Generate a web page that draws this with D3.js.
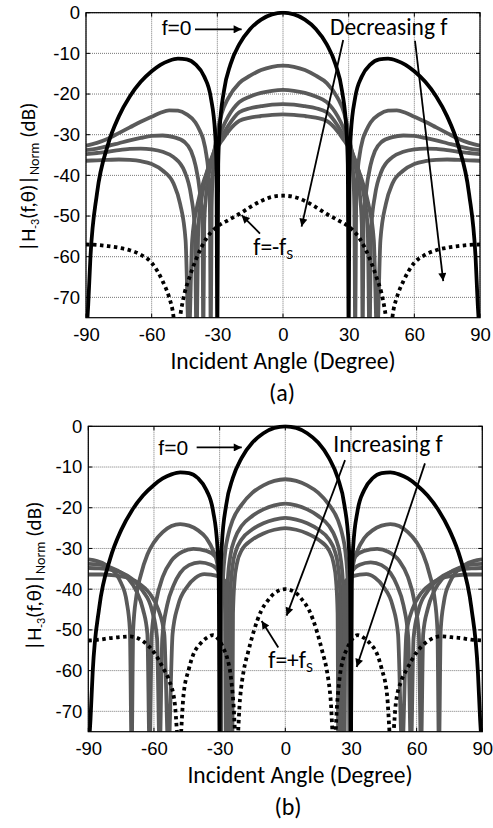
<!DOCTYPE html>
<html>
<head>
<meta charset="utf-8">
<script src="https://cdn.jsdelivr.net/npm/d3@7"></script>
<style>
  body { margin: 0; background: #ffffff; }
</style>
</head>
<body>
<div id="chart"></div>
<script>

// #####################################################
// Data (angle in degree, level in dB)
// nulls go below the -75 dB floor and get clipped
//
var xTicks = [-90, -60, -30, 0, 30, 60, 90];
var yTicks = [0, -10, -20, -30, -40, -50, -60, -70];
var xDomain = [-90, 90];
var yDomain = [-75, 0];

// f=0, same curve on both panels
var curveF0 = [[-90,-80],[-89,-72],[-88,-60.4],[-85,-44.5],[-80,-32.5],[-75,-25.5],[-70,-20.6],[-65,-17],[-60,-14.4],[-56,-12.8],[-52,-11.8],[-48,-11.3],[-44,-11.5],[-40,-12.7],[-36,-15.7],[-33,-20.8],[-31,-29.7],[-30.4,-37.6],[-30,-80],[-29.6,-37.3],[-29,-29.2],[-27,-19.3],[-24,-12.7],[-20,-7.8],[-15,-4],[-10,-1.7],[-5,-0.4],[0,0],
  [5,-0.4],[10,-1.7],[15,-4],[20,-7.8],[24,-12.7],[27,-19.3],[29,-29.2],[29.6,-37.3],[30,-80],[30.4,-37.6],[31,-29.7],[33,-20.8],[36,-15.7],[40,-12.7],[44,-11.5],[48,-11.3],[52,-11.8],[56,-12.8],[60,-14.4],[65,-17],[70,-20.6],[75,-25.5],[80,-32.5],[85,-44.5],[88,-60.4],[89,-72],[90,-80]];

// panel (a), decreasing f
var curveA1 = [[-90,-32.7],[-85,-32],[-80,-31],[-75,-29.6],[-70,-28.2],[-65,-26.8],[-60,-25.6],[-56,-24.6],[-52,-24],[-48,-24.1],[-44,-25],[-40,-27],[-38,-29],[-36.5,-31],[-35,-35],[-34,-40],[-33.4,-48],[-33,-80],[-32.6,-48],[-32,-39],[-31,-33],[-30,-29.5],[-28,-24.8],[-25,-21],[-20,-17.3],[-15,-15.5],[-10,-14.1],[-5,-13.3],[0,-13],
  [5,-13.3],[10,-14.1],[15,-15.5],[20,-17.3],[25,-21],[28,-24.8],[30,-29.5],[31,-33],[32,-39],[32.6,-48],[33,-80],[33.4,-48],[34,-40],[35,-35],[36.5,-31],[38,-29],[40,-27],[44,-25],[48,-24.1],[52,-24],[56,-24.6],[60,-25.6],[65,-26.8],[70,-28.2],[75,-29.6],[80,-31],[85,-32],[90,-32.7]];
var curveA2 = [[-90,-33.8],[-85,-33.4],[-80,-32.8],[-75,-32.1],[-70,-31.4],[-65,-30.8],[-60,-30.3],[-55,-30.2],[-50,-30.6],[-45,-31.8],[-42,-34],[-40,-37.5],[-38,-44],[-36.8,-52],[-36.4,-80],[-36,-52],[-35,-44],[-33,-37.5],[-31,-33],[-28,-28.8],[-25,-25.5],[-20,-22],[-15,-20.6],[-10,-19.7],[-5,-19.2],[0,-19],
  [5,-19.2],[10,-19.7],[15,-20.6],[20,-22],[25,-25.5],[28,-28.8],[31,-33],[33,-37.5],[35,-44],[36,-52],[36.4,-80],[36.8,-52],[38,-44],[40,-37.5],[42,-34],[45,-31.8],[50,-30.6],[55,-30.2],[60,-30.3],[65,-30.8],[70,-31.4],[75,-32.1],[80,-32.8],[85,-33.4],[90,-33.8]];
var curveA3 = [[-90,-34.8],[-85,-34.5],[-80,-34.2],[-75,-33.8],[-70,-33.5],[-65,-33.4],[-60,-33.6],[-55,-34.2],[-50,-35.5],[-45,-39],[-42,-45],[-40.3,-53],[-39.5,-80],[-38.7,-53],[-37,-45],[-34,-38],[-31,-33.5],[-28,-30.5],[-25,-27.8],[-20,-24.5],[-15,-23.5],[-10,-23],[-5,-22.6],[0,-22.5],
  [5,-22.6],[10,-23],[15,-23.5],[20,-24.5],[25,-27.8],[28,-30.5],[31,-33.5],[34,-38],[37,-45],[38.7,-53],[39.5,-80],[40.3,-53],[42,-45],[45,-39],[50,-35.5],[55,-34.2],[60,-33.6],[65,-33.4],[70,-33.5],[75,-33.8],[80,-34.2],[85,-34.5],[90,-34.8]];
var curveA4 = [[-90,-36.4],[-85,-36.3],[-80,-36.2],[-75,-36.1],[-70,-36.2],[-65,-36.5],[-60,-37.2],[-55,-38.8],[-50,-42],[-47,-47],[-44.5,-56],[-43,-80],[-41.5,-56],[-39,-47],[-35,-39.5],[-31,-34],[-28,-31.5],[-25,-29.2],[-20,-26.6],[-15,-25.8],[-10,-25.4],[-5,-25.1],[0,-25],
  [5,-25.1],[10,-25.4],[15,-25.8],[20,-26.6],[25,-29.2],[28,-31.5],[31,-34],[35,-39.5],[39,-47],[41.5,-56],[43,-80],[44.5,-56],[47,-47],[50,-42],[55,-38.8],[60,-37.2],[65,-36.5],[70,-36.2],[75,-36.1],[80,-36.2],[85,-36.3],[90,-36.4]];
var curveAfs = [[-90,-57],[-85,-57.1],[-80,-57.4],[-75,-57.8],[-70,-58.4],[-65,-59.5],[-60,-61.5],[-55,-66],[-52,-70],[-50.5,-73],[-48.5,-80],[-46.5,-73],[-45,-69],[-43,-65.5],[-40,-61],[-35,-55.5],[-30,-52.6],[-25,-51],[-20,-49.5],[-15,-47.8],[-10,-46.3],[-5,-45.3],[0,-45],
  [5,-45.3],[10,-46.3],[15,-47.8],[20,-49.5],[25,-51],[30,-52.6],[35,-55.5],[40,-61],[43,-65.5],[45,-69],[46.5,-73],[48.5,-80],[50.5,-73],[52,-70],[55,-66],[60,-61.5],[65,-59.5],[70,-58.4],[75,-57.8],[80,-57.4],[85,-57.1],[90,-57]];

// panel (b), increasing f
var curveB1 = [[-90,-32.7],[-86,-33.1],[-82,-34],[-78,-35.8],[-75,-38.5],[-72.5,-43],[-71,-50],[-70.2,-80],[-69.5,-50],[-68,-41.5],[-66,-36.5],[-63,-31.5],[-60,-28.5],[-56,-26],[-52,-24.5],[-48,-24],[-44,-24.4],[-40,-25.5],[-36,-27.5],[-33,-30.5],[-31,-34],[-30.2,-38],[-29.6,-46],[-29.3,-80],[-29,-46],[-28.5,-38],[-27.5,-31],[-26,-26.5],[-24,-23],[-20,-19.3],[-15,-16.3],[-10,-14.5],[-5,-13.4],[0,-13],
  [5,-13.4],[10,-14.5],[15,-16.3],[20,-19.3],[24,-23],[26,-26.5],[27.5,-31],[28.5,-38],[29,-46],[29.3,-80],[29.6,-46],[30.2,-38],[31,-34],[33,-30.5],[36,-27.5],[40,-25.5],[44,-24.4],[48,-24],[52,-24.5],[56,-26],[60,-28.5],[63,-31.5],[66,-36.5],[68,-41.5],[69.5,-50],[70.2,-80],[71,-50],[72.5,-43],[75,-38.5],[78,-35.8],[82,-34],[86,-33.1],[90,-32.7]];
var curveB2 = [[-90,-33.8],[-86,-33.9],[-82,-34.3],[-77,-35.3],[-72,-37.3],[-68,-40.5],[-65,-45],[-63,-51],[-62,-80],[-61,-51],[-59,-43],[-56,-37],[-52,-33],[-47,-30.8],[-42,-30.1],[-36,-30.6],[-32,-32],[-29.5,-35],[-28,-40],[-27.4,-46],[-27.1,-80],[-26.8,-46],[-26.3,-38],[-25,-31.5],[-23,-27.5],[-20,-24.5],[-15,-22],[-10,-20.4],[-5,-19.4],[0,-19],
  [5,-19.4],[10,-20.4],[15,-22],[20,-24.5],[23,-27.5],[25,-31.5],[26.3,-38],[26.8,-46],[27.1,-80],[27.4,-46],[28,-40],[29.5,-35],[32,-32],[36,-30.6],[42,-30.1],[47,-30.8],[52,-33],[56,-37],[59,-43],[61,-51],[62,-80],[63,-51],[65,-45],[68,-40.5],[72,-37.3],[77,-35.3],[82,-34.3],[86,-33.9],[90,-33.8]];
var curveB3 = [[-90,-34.8],[-85,-34.9],[-80,-35.2],[-75,-35.9],[-70,-37.5],[-65,-40.5],[-61,-45],[-58.6,-52],[-57.4,-80],[-56.2,-52],[-54,-44],[-51,-39],[-48,-36],[-44,-34.1],[-39,-33.4],[-34,-34],[-30,-36],[-28,-38.5],[-26.8,-42],[-26.1,-48],[-25.8,-80],[-25.5,-48],[-25,-40],[-24,-34],[-22.5,-30.5],[-20,-27.8],[-15,-25.3],[-10,-23.8],[-5,-22.9],[0,-22.5],
  [5,-22.9],[10,-23.8],[15,-25.3],[20,-27.8],[22.5,-30.5],[24,-34],[25,-40],[25.5,-48],[25.8,-80],[26.1,-48],[26.8,-42],[28,-38.5],[30,-36],[34,-34],[39,-33.4],[44,-34.1],[48,-36],[51,-39],[54,-44],[56.2,-52],[57.4,-80],[58.6,-52],[61,-45],[65,-40.5],[70,-37.5],[75,-35.9],[80,-35.2],[85,-34.9],[90,-34.8]];
var curveB4 = [[-90,-36.4],[-84,-36.4],[-78,-36.6],[-72,-37.2],[-67,-38.5],[-62,-41],[-58,-45],[-55.3,-51],[-53.4,-80],[-51.5,-51],[-49,-44],[-45,-39.5],[-41,-37.2],[-37,-36.3],[-34,-36.4],[-30,-37],[-27,-38.5],[-25.3,-41],[-24.5,-46],[-24.2,-80],[-23.9,-46],[-23.2,-38],[-22,-33.5],[-20,-30.5],[-15,-27.8],[-10,-26.3],[-5,-25.4],[0,-25],
  [5,-25.4],[10,-26.3],[15,-27.8],[20,-30.5],[22,-33.5],[23.2,-38],[23.9,-46],[24.2,-80],[24.5,-46],[25.3,-41],[27,-38.5],[30,-37],[34,-36.4],[37,-36.3],[41,-37.2],[45,-39.5],[49,-44],[51.5,-51],[53.4,-80],[55.3,-51],[58,-45],[62,-41],[67,-38.5],[72,-37.2],[78,-36.6],[84,-36.4],[90,-36.4]];
var curveBfs = [[-90,-52.6],[-85,-52.4],[-80,-52],[-76,-51.8],[-71,-51.6],[-65,-52.8],[-60,-55.5],[-55.7,-59.5],[-53,-62.5],[-50.5,-68],[-48.5,-80],[-46.5,-66],[-44,-59.5],[-42,-56],[-39,-53.5],[-36,-52],[-33,-51.3],[-31,-52],[-28.3,-54.5],[-26.5,-57],[-25,-61],[-23.7,-68],[-22.3,-80],[-20.7,-67],[-19,-60],[-17,-55.5],[-14.5,-50.5],[-11,-45.3],[-8,-42.8],[-5,-41],[0,-40],
  [5,-41],[8,-42.8],[11,-45.3],[14.5,-50.5],[17,-55.5],[19,-60],[20.7,-67],[22.3,-80],[23.7,-68],[25,-61],[26.5,-57],[28.3,-54.5],[31,-52],[33,-51.3],[36,-52],[39,-53.5],[42,-56],[44,-59.5],[46.5,-66],[48.5,-80],[50.5,-68],[53,-62.5],[55.7,-59.5],[60,-55.5],[65,-52.8],[71,-51.6],[76,-51.8],[80,-52],[85,-52.4],[90,-52.6]];

// #####################################################
// Styles
//
var grayColor = '#5a5a5a';
var tickFont = '"Liberation Sans", Arial, Helvetica, sans-serif';
var textFont = 'Carlito, Lato, "Open Sans", sans-serif';

var svg = d3.select('#chart').append('svg')
    .attr('width', 493)
    .attr('height', 828)
    .style('background', '#ffffff');

var defs = svg.append('defs');
defs.append('marker')
    .attr('id', 'arrowhead')
    .attr('viewBox', '0 0 10 10')
    .attr('refX', 10)
    .attr('refY', 5)
    .attr('markerUnits', 'userSpaceOnUse')
    .attr('markerWidth', 12)
    .attr('markerHeight', 8)
    .attr('orient', 'auto')
  .append('path')
    .attr('d', 'M0,0 L10,5 L0,10 z')
    .attr('fill', '#000');

// #####################################################
// One panel
//
function plot_panel (cfg) {

  var x = d3.scaleLinear().domain(xDomain).range([cfg.left, cfg.left + cfg.width]);
  var y = d3.scaleLinear().domain(yDomain).range([cfg.top + cfg.height, cfg.top]);
  var bottom = cfg.top + cfg.height;
  var right = cfg.left + cfg.width;

  defs.append('clipPath').attr('id', 'clip-' + cfg.id)
    .append('rect')
      .attr('x', cfg.left)
      .attr('y', cfg.top - 2)
      .attr('width', cfg.width)
      .attr('height', cfg.height + 2);

  var g = svg.append('g');

  // dotted grid
  g.selectAll('.vgrid')
      .data(xTicks)
      .enter().append('line')
        .attr('x1', function(d) { return x(d); })
        .attr('x2', function(d) { return x(d); })
        .attr('y1', cfg.top)
        .attr('y2', bottom)
        .attr('stroke', '#777')
        .attr('stroke-width', 1)
        .attr('stroke-dasharray', '1,1');

  g.selectAll('.hgrid')
      .data(yTicks)
      .enter().append('line')
        .attr('x1', cfg.left)
        .attr('x2', right)
        .attr('y1', function(d) { return y(d); })
        .attr('y2', function(d) { return y(d); })
        .attr('stroke', '#777')
        .attr('stroke-width', 1)
        .attr('stroke-dasharray', '1,1');

  // curves
  var line = d3.line()
      .x(function(d) { return x(d[0]); })
      .y(function(d) { return y(d[1]); })
      .curve(d3.curveMonotoneX);

  var plotArea = g.append('g').attr('clip-path', 'url(#clip-' + cfg.id + ')');

  cfg.series.forEach(function(s) {
    plotArea.append('path')
        .datum(s.data)
        .attr('fill', 'none')
        .attr('stroke', s.color)
        .attr('stroke-width', s.width)
        .attr('stroke-dasharray', s.dash || null)
        .attr('stroke-linejoin', 'round')
        .attr('d', line);
  });

  // inward ticks on all four sides
  xTicks.forEach(function(t) {
    g.append('line').attr('x1', x(t)).attr('x2', x(t)).attr('y1', bottom).attr('y2', bottom - 4).attr('stroke', '#000');
    g.append('line').attr('x1', x(t)).attr('x2', x(t)).attr('y1', cfg.top).attr('y2', cfg.top + 4).attr('stroke', '#000');
  });
  yTicks.forEach(function(t) {
    g.append('line').attr('x1', cfg.left).attr('x2', cfg.left + 4).attr('y1', y(t)).attr('y2', y(t)).attr('stroke', '#000');
    g.append('line').attr('x1', right).attr('x2', right - 4).attr('y1', y(t)).attr('y2', y(t)).attr('stroke', '#000');
  });

  g.append('rect')
      .attr('x', cfg.left)
      .attr('y', cfg.top)
      .attr('width', cfg.width)
      .attr('height', cfg.height)
      .attr('fill', 'none')
      .attr('stroke', '#000')
      .attr('stroke-width', 1.2);

  // tick labels
  var xAxis = g.append('g')
      .attr('transform', 'translate(0,' + bottom + ')')
      .call(d3.axisBottom(x).tickValues(xTicks).tickSize(0).tickPadding(10).tickFormat(d3.format('d')));
  var yAxis = g.append('g')
      .attr('transform', 'translate(' + cfg.left + ',0)')
      .call(d3.axisLeft(y).tickValues(yTicks).tickSize(0).tickPadding(6).tickFormat(d3.format('d')));

  [xAxis, yAxis].forEach(function(a) {
    a.select('.domain').remove();
    a.selectAll('text')
        .style('font-family', tickFont)
        .style('font-size', '18.5px')
        .attr('fill', '#000');
  });
  yAxis.selectAll('text').text(function(d) { return d == 0 ? '0' : '-' + Math.abs(d); });
  xAxis.selectAll('text').text(function(d) { return d < 0 ? '-' + Math.abs(d) : d; });

  // axis titles
  g.append('text')
      .attr('x', cfg.xTitle[0])
      .attr('y', cfg.xTitle[1])
      .attr('text-anchor', 'middle')
      .style('font-family', textFont)
      .style('font-size', '23.5px')
      .text('Incident Angle (Degree)');

  g.append('text')
      .attr('x', cfg.tag[0])
      .attr('y', cfg.tag[1])
      .attr('text-anchor', 'middle')
      .style('font-family', textFont)
      .style('font-size', '24px')
      .text(cfg.tagText);

  var yt = g.append('text')
      .attr('transform', 'translate(' + cfg.yTitle[0] + ',' + cfg.yTitle[1] + ') rotate(-90)')
      .attr('text-anchor', 'middle')
      .style('font-family', textFont)
      .style('font-size', '21px');
  yt.append('tspan').text('|H');
  yt.append('tspan').attr('dy', 4).style('font-size', '12px').text('-3');
  yt.append('tspan').attr('dy', -4).text('(f,\u03b8)|');
  yt.append('tspan').attr('dy', 4).style('font-size', '14px').text('Norm');
  yt.append('tspan').attr('dy', -4).text(' (dB)');

  // annotations
  cfg.notes.forEach(function(n) {
    var t = g.append('text')
        .attr('x', x(n.at[0]))
        .attr('y', y(n.at[1]))
        .style('font-family', n.arial ? tickFont : textFont)
        .style('font-size', n.arial ? '21px' : '23.5px')
        .text(n.text);
    if (n.sub) {
      t.append('tspan').attr('dy', 4).style('font-size', '15px').text(n.sub);
    }
  });

  cfg.arrows.forEach(function(a) {
    g.append('line')
        .attr('x1', x(a[0][0]))
        .attr('y1', y(a[0][1]))
        .attr('x2', x(a[1][0]))
        .attr('y2', y(a[1][1]))
        .attr('stroke', '#000')
        .attr('stroke-width', 1.8)
        .attr('marker-end', 'url(#arrowhead)');
  });
}

// #####################################################
// Panels
//
plot_panel({
  id: 'a', left: 86, top: 12.7, width: 394, height: 305,
  series: [
    {data: curveA4, color: grayColor, width: 3.8},
    {data: curveA3, color: grayColor, width: 3.8},
    {data: curveA2, color: grayColor, width: 3.8},
    {data: curveA1, color: grayColor, width: 3.8},
    {data: curveF0, color: '#000', width: 3.8},
    {data: curveAfs, color: '#000', width: 3.8, dash: '3.5,3.5'}
  ],
  xTitle: [283, 369], tag: [282, 401], tagText: '(a)', yTitle: [35, 177],
  notes: [
    {text: 'f=0', at: [-55.4, -5.5], arial: true},
    {text: 'Decreasing f', at: [21.5, -5.5]},
    {text: 'f=-f', sub: 'S', at: [-13.6, -59.6]}
  ],
  arrows: [
    [[-40.2, -4.1], [-18.9, -4.1]],
    [[27.5, -6.7], [8.5, -52.6]],
    [[60.3, -6.9], [73.2, -66]],
    [[-10.5, -54.3], [-18.9, -49.8]]
  ]
});

plot_panel({
  id: 'b', left: 88.3, top: 426.3, width: 394, height: 305.4,
  series: [
    {data: curveB4, color: grayColor, width: 3.8},
    {data: curveB3, color: grayColor, width: 3.8},
    {data: curveB2, color: grayColor, width: 3.8},
    {data: curveB1, color: grayColor, width: 3.8},
    {data: curveF0, color: '#000', width: 3.8},
    {data: curveBfs, color: '#000', width: 3.8, dash: '3.5,3.5'}
  ],
  xTitle: [300, 783], tag: [288, 815], tagText: '(b)', yTitle: [41, 576],
  notes: [
    {text: 'f=0', at: [-58, -7], arial: true},
    {text: 'Increasing f', at: [21.9, -6.3]},
    {text: 'f=+f', sub: 'S', at: [-7.8, -59.4]}
  ],
  arrows: [
    [[-40.5, -5.2], [-19.9, -5.2]],
    [[27.3, -8.3], [0.6, -46.5]],
    [[63.8, -9.1], [32.6, -59.1]],
    [[-3.2, -54.3], [-10.8, -47.8]]
  ]
});

</script>
</body>
</html>
